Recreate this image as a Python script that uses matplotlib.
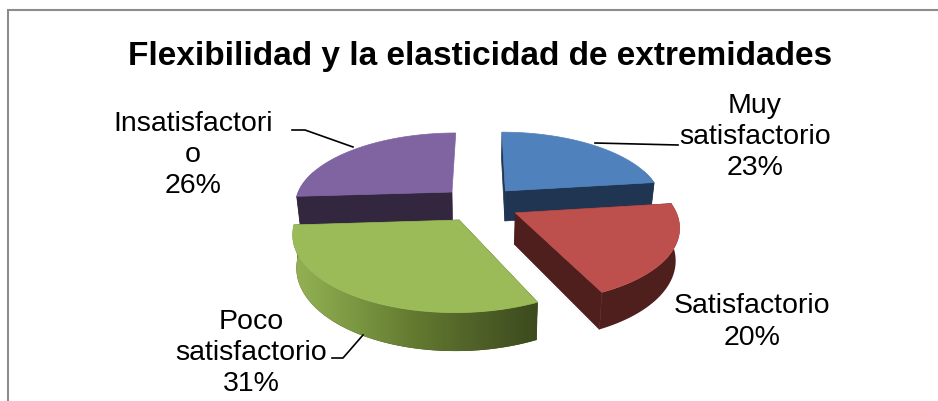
import numpy as np
import matplotlib
matplotlib.use('Agg')
import matplotlib.pyplot as plt
from matplotlib.colors import LinearSegmentedColormap

plt.rcParams['font.family'] = ['Liberation Sans', 'DejaVu Sans']

categories = ['Muy satisfactorio', 'Satisfactorio', 'Poco satisfactorio', 'Insatisfactorio']
label_lines = ['Muy\nsatisfactorio', 'Satisfactorio', 'Poco\nsatisfactorio', 'Insatisfactori\no']
values = [23, 20, 31, 26]
top_colors = ['#4f81bd', '#bd4f4c', '#9bbb59', '#8064a2']
side_colors = [['#1f3551', '#1f3551'], ['#4f1f1e', '#4f1f1e'],
               ['#94b254', '#7b9842', '#63792f', '#4f6128', '#3d4a1e'], ['#32273f', '#32273f']]
label_pos = [(755, 137), (752, 322), (251, 353), (193, 155)]
# draw order, back slices first
order = [0, 3, 1, 2]

CX, CY = 480, 204
RX, RY = 158, 72
PERSP = 0.16
EXPLODE = 0.25
DEPTH = 31


# disc coordinates to pixels, z=1 is the lower face of the pie
def project(x, y, z=0):
    d = 1 + PERSP * y
    shrink = 1 - 0.02 * z
    return CX + RX * x / d * shrink, CY - RY * y / d + DEPTH * z / d


def slice_outline(t0, t1):
    mid = (t0 + t1) / 2
    ox, oy = EXPLODE * np.sin(mid), EXPLODE * np.cos(mid)
    t = np.linspace(t0, t1, 120)
    return ox, oy, ox + np.sin(t), oy + np.cos(t)


fig = plt.figure(figsize=(9.38, 4.01), dpi=100)
ax = fig.add_axes([0, 0, 1, 1])
ax.axis('off')

# chart frame, only left and top fall inside the image
ax.plot([8, 8, 938], [401, 10, 10], color='#8c8c8c', lw=1.5, solid_joinstyle='miter')

angles = np.radians(np.concatenate([[0], np.cumsum(values)]) * 3.6)

for i in order:
    ox, oy, sx, sy = slice_outline(angles[i], angles[i + 1])
    cmap = LinearSegmentedColormap.from_list('side', side_colors[i])
    dark = side_colors[i][-1]
    base_z = 1.4 + order.index(i) * 0.1

    # flat cut faces, the closing one of the last slice faces away
    ends = [0, -1] if i != 3 else [0]
    for e in ends:
        px0, py0 = project(ox, oy, 0)
        px1, py1 = project(sx[e], sy[e], 0)
        px2, py2 = project(sx[e], sy[e], 1)
        px3, py3 = project(ox, oy, 1)
        ax.fill([px0, px1, px2, px3], [py0, py1, py2, py3], color=dark, lw=0.5, zorder=base_z)

    # outer rim, only the part turned towards the viewer
    keep = sy < 0.5
    tx, ty = project(sx[keep], sy[keep], 0)
    bx, by = project(sx[keep], sy[keep], 1)
    rim = ax.fill(np.r_[tx, bx[::-1]], np.r_[ty, by[::-1]], color=dark, lw=0, zorder=base_z + 0.01)[0]
    if i == 2:
        grad = np.linspace(0, 1, 256).reshape(1, -1)
        im = ax.imshow(grad, cmap=cmap, aspect='auto',
                       extent=[min(tx.min(), bx.min()), max(tx.max(), bx.max()), by.max(), ty.min()],
                       zorder=base_z + 0.02)
        im.set_clip_path(rim)

    # top face
    fx, fy = project(np.r_[ox, sx], np.r_[oy, sy], 0)
    ax.fill(fx, fy, color=top_colors[i], lw=0.5, zorder=base_z + 0.05)

ax.set_xlim(0, 938)
ax.set_ylim(401, 0)

# leader lines
ax.plot([595, 678], [143, 145], color='black', lw=1.2, zorder=3)
ax.plot([353, 305, 292], [147, 130, 130], color='black', lw=1.2, zorder=3)
ax.plot([363, 343, 332], [335, 358, 358], color='black', lw=1.2, zorder=3)

for name, val, (lx, ly) in zip(label_lines, values, label_pos):
    ax.text(lx, ly, f'{name}\n{val}%', ha='center', va='center', fontsize=20.5, linespacing=1.27, color='black')

ax.text(480, 57, 'Flexibilidad y la elasticidad de extremidades', ha='center', va='center',
        fontsize=24, fontweight='bold', color='black')

fig.savefig('out.png', dpi=100)
